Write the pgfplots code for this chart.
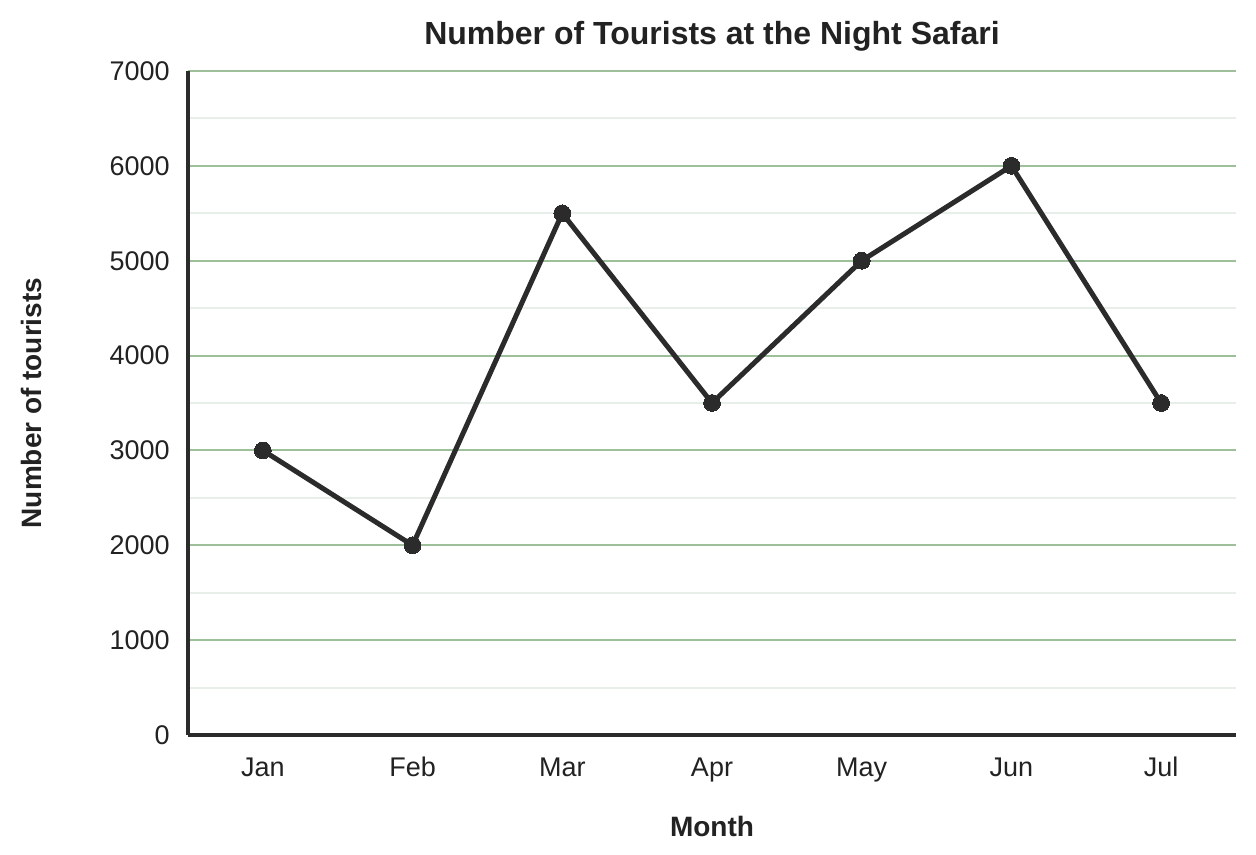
\documentclass[border=0pt]{standalone}
\usepackage{pgfplots}
\pgfplotsset{compat=1.18}
\usepackage{fontspec}
\setmainfont{Liberation Sans}
\definecolor{linec}{HTML}{2B2B2B}
\definecolor{majg}{HTML}{9DBF9A}
\definecolor{ming}{HTML}{E8EEE8}
\definecolor{txt}{HTML}{222222}
\begin{document}
\begin{tikzpicture}
\path[use as bounding box] (-94pt,-60pt) rectangle (534pt,367.5pt);
\begin{axis}[
  at={(0,0)}, anchor=south west,
  scale only axis, width=524pt, height=332pt,
  xmin=-0.5, xmax=6.5, ymin=0, ymax=7000,
  xtick={0,1,2,3,4,5,6},
  xticklabels={Jan,Feb,Mar,Apr,May,Jun,Jul},
  ytick={0,1000,...,7000},
  minor ytick={500,1500,...,6500},
  major tick length=0pt, minor tick length=0pt,
  ymajorgrids, yminorgrids,
  major grid style={draw=majg, line width=1pt},
  minor grid style={draw=ming, line width=1pt},
  axis x line*=bottom, axis y line*=left,
  axis line style={draw=linec, line width=1.8pt, -},
  /pgf/number format/assume math mode=true,
  /pgf/number format/1000 sep={},
  tick label style={font=\fontsize{13.5}{15}\selectfont, text=txt},
  yticklabel style={anchor=east, inner sep=0pt, xshift=-9pt},
  xticklabel style={anchor=base, inner sep=0pt, yshift=-20.5pt},
  title={Number of Tourists at the Night Safari},
  title style={at={(axis description cs:0.5,1)}, anchor=center, yshift=11.5pt, font=\bfseries\fontsize{16}{18}\selectfont, text=txt},
  xlabel={Month},
  xlabel style={at={(axis description cs:0.5,0)}, anchor=center, yshift=-45.5pt, font=\bfseries\fontsize{14}{16}\selectfont, text=txt},
  ylabel={Number of tourists},
  ylabel style={at={(axis description cs:0,0.5)}, anchor=center, yshift=78.5pt, font=\bfseries\fontsize{14}{16}\selectfont, text=txt},
  clip=false,
]
\addplot[linec, line width=2.5pt, mark=*, mark size=4.2pt, mark options={fill=linec, draw=linec, line width=0pt}]
  coordinates {(0,3000) (1,2000) (2,5500) (3,3500) (4,5000) (5,6000) (6,3500)};
\end{axis}
\end{tikzpicture}
\end{document}
